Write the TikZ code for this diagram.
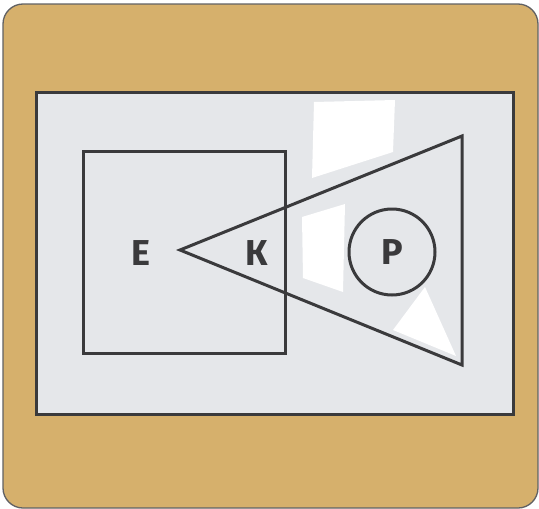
\documentclass[tikz,border=0pt]{standalone}
\usepackage{fontspec}
\newfontfamily\letterfont{Fira Sans}
\definecolor{tan}{RGB}{214,176,108}
\definecolor{panel}{RGB}{229,231,234}
\definecolor{ink}{RGB}{58,58,60}
\tikzset{
  shape line/.style={draw=ink, line width=3pt},
  letter/.style={font=\letterfont\bfseries\fontsize{36}{36}\selectfont, text=ink, inner sep=0pt},
  patch/.style={fill=white, draw=none}
}
\begin{document}
\begin{tikzpicture}[x=1pt,y=-1pt]
\useasboundingbox (0,0) rectangle (539,509);
% outer card
\draw[fill=tan, draw=ink!80, line width=1.3pt, rounded corners=20pt] (3,4) rectangle (538,508);
% inner panel
\draw[fill=panel, draw=ink, line width=3pt] (36,92) rectangle (513,414);
% white patches
\fill[patch] (314,102) -- (395,100) -- (393,152) -- (312,178) -- cycle;
\fill[patch] (302,217) -- (345,204) -- (343,292) -- (303,278) -- cycle;
\fill[patch] (425,287) -- (456,356) -- (393,330) -- cycle;
% square
\draw[shape line] (83,151) rectangle (285,353);
% triangle
\coordinate (tl) at (180,250);
\coordinate (tt) at (462,136);
\coordinate (tb) at (462,365);
\draw[shape line, line join=miter] (tl) -- (tt) -- (tb) -- cycle;
% circle
\node[shape line, circle, minimum size=86pt, inner sep=0pt] (c) at (392,252) {};
% letters
\node[letter] (e) at (141,253) {Е};
\node[letter] (k) at (257,253) {К};
\node[letter] (p) at (c) {Р};
\end{tikzpicture}
\end{document}
